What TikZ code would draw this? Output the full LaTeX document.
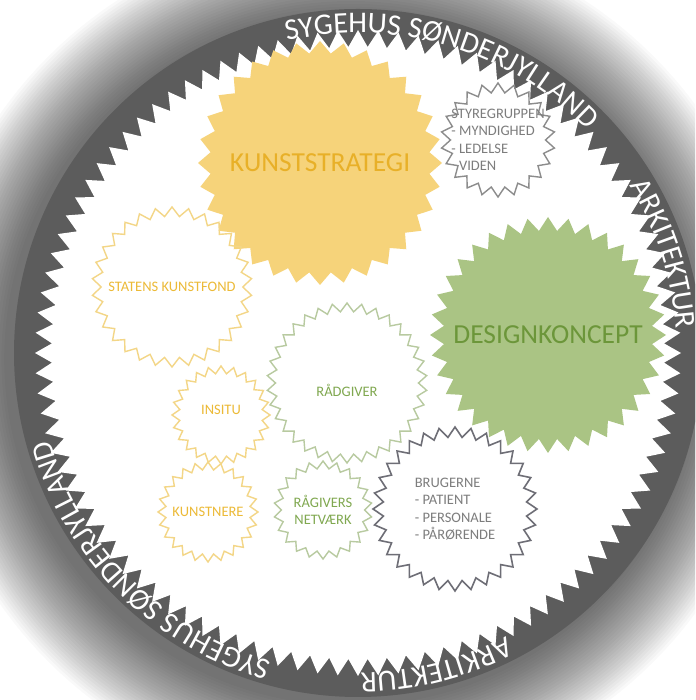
\documentclass[tikz,border=0pt]{standalone}
\usepackage{fontspec}
\setmainfont{Carlito}
\usetikzlibrary{shapes.geometric, decorations.text}
\definecolor{bandgray}{RGB}{92, 92, 92}
\definecolor{artfill}{RGB}{246, 211, 122}
\definecolor{arttext}{RGB}{232, 176, 40}
\definecolor{artline}{RGB}{243, 214, 135}
\definecolor{artlabel}{RGB}{236, 186, 55}
\definecolor{designfill}{RGB}{170, 196, 132}
\definecolor{designtext}{RGB}{108, 150, 58}
\definecolor{designline}{RGB}{184, 202, 160}
\definecolor{designlabel}{RGB}{128, 168, 80}
\definecolor{boardline}{RGB}{140, 140, 140}
\definecolor{userline}{RGB}{110, 110, 118}
\definecolor{usertext}{RGB}{125, 125, 125}

\begin{document}
\begin{tikzpicture}[x=1pt, y=1pt,
  burst/.style={star, inner sep=0pt, line width=1.4pt},
  ringtext/.style={postaction={decorate}, decoration={text along path, text align=center, text={|\fontsize{30}{30}\selectfont\color{white}|#1}}},
  tag/.style={font=\fontsize{14.5}{17.5}\selectfont, align=center},
  bigtag/.style={font=\fontsize{27.5}{30}\selectfont}]
  \useasboundingbox (0,0) rectangle (695,700);
  \clip (0,0) rectangle (695,700);
  \fill[white] (0,0) rectangle (695,700);
  \coordinate (halo) at (351,341);
  \coordinate (hub) at (358,347);
  \foreach \i in {1,...,30}
    \fill[black, opacity=0.024] (halo) circle[radius={344+2.8*\i}];
  \fill[bandgray] (hub) circle[radius=344];
  \node[burst, fill=white, star points=100, star point ratio=1.055, minimum size=646pt] (rim) at (hub) {};

  \path[ringtext={SYGEHUS SØNDERJYLLAND}] (hub) ++(113.5:320) arc[start angle=113.5, end angle=33.5, radius=320];
  \path[ringtext={ARKITEKTUR}] (hub) ++(38:319) arc[start angle=38, end angle=-2, radius=319];
  \path[ringtext={ARKITEKTUR}] (hub) ++(-56:320) arc[start angle=-56, end angle=-96, radius=320];
  \path[ringtext={SYGEHUS SØNDERJYLLAND}] (hub) ++(265:320) arc[start angle=265, end angle=185, radius=320];

  \node[burst, fill=artfill, star points=32, star point ratio=1.11, minimum size=244pt, label={[bigtag, text=arttext]center:KUNSTSTRATEGI}] (strategy) at (320,537) {};
  \node[burst, fill=designfill, star points=36, star point ratio=1.13, minimum size=236pt, label={[bigtag, text=designtext]center:DESIGNKONCEPT}] (concept) at (548,365) {};
  \node[burst, draw=boardline, star points=22, star point ratio=1.2, minimum size=114pt, label={[tag, align=left, text=usertext]center:{STYREGRUPPEN\\- MYNDIGHED\\- LEDELSE\\\phantom{- }VIDEN}}] (board) at (498,560) {};
  \node[burst, draw=artline, star points=30, star point ratio=1.13, minimum size=160pt, label={[tag, text=artlabel]center:STATENS KUNSTFOND}] (fund) at (172,413) {};
  \node[burst, draw=artline, star points=24, star point ratio=1.18, minimum size=98pt, label={[tag, text=artlabel, yshift=5pt]center:INSITU}] (insitu) at (221,285) {};
  \node[burst, draw=artline, star points=24, star point ratio=1.18, minimum size=100pt, label={[tag, text=artlabel]center:KUNSTNERE}] (artists) at (208,188) {};
  \node[burst, draw=designline, star points=34, star point ratio=1.12, minimum size=160pt, label={[tag, text=designlabel, yshift=-7pt]center:RÅDGIVER}] (advisor) at (347,317) {};
  \node[burst, draw=designline, star points=22, star point ratio=1.18, minimum size=98pt, label={[tag, text=designlabel]center:{RÅGIVERS\\NETVÆRK}}] (network) at (323,190) {};
  \node[burst, draw=userline, line width=1.6pt, star points=32, star point ratio=1.14, minimum size=164pt, label={[tag, align=left, text=usertext]center:{BRUGERNE\\- PATIENT\\- PERSONALE\\- PÅRØRENDE}}] (users) at (455,191) {};
\end{tikzpicture}
\end{document}
